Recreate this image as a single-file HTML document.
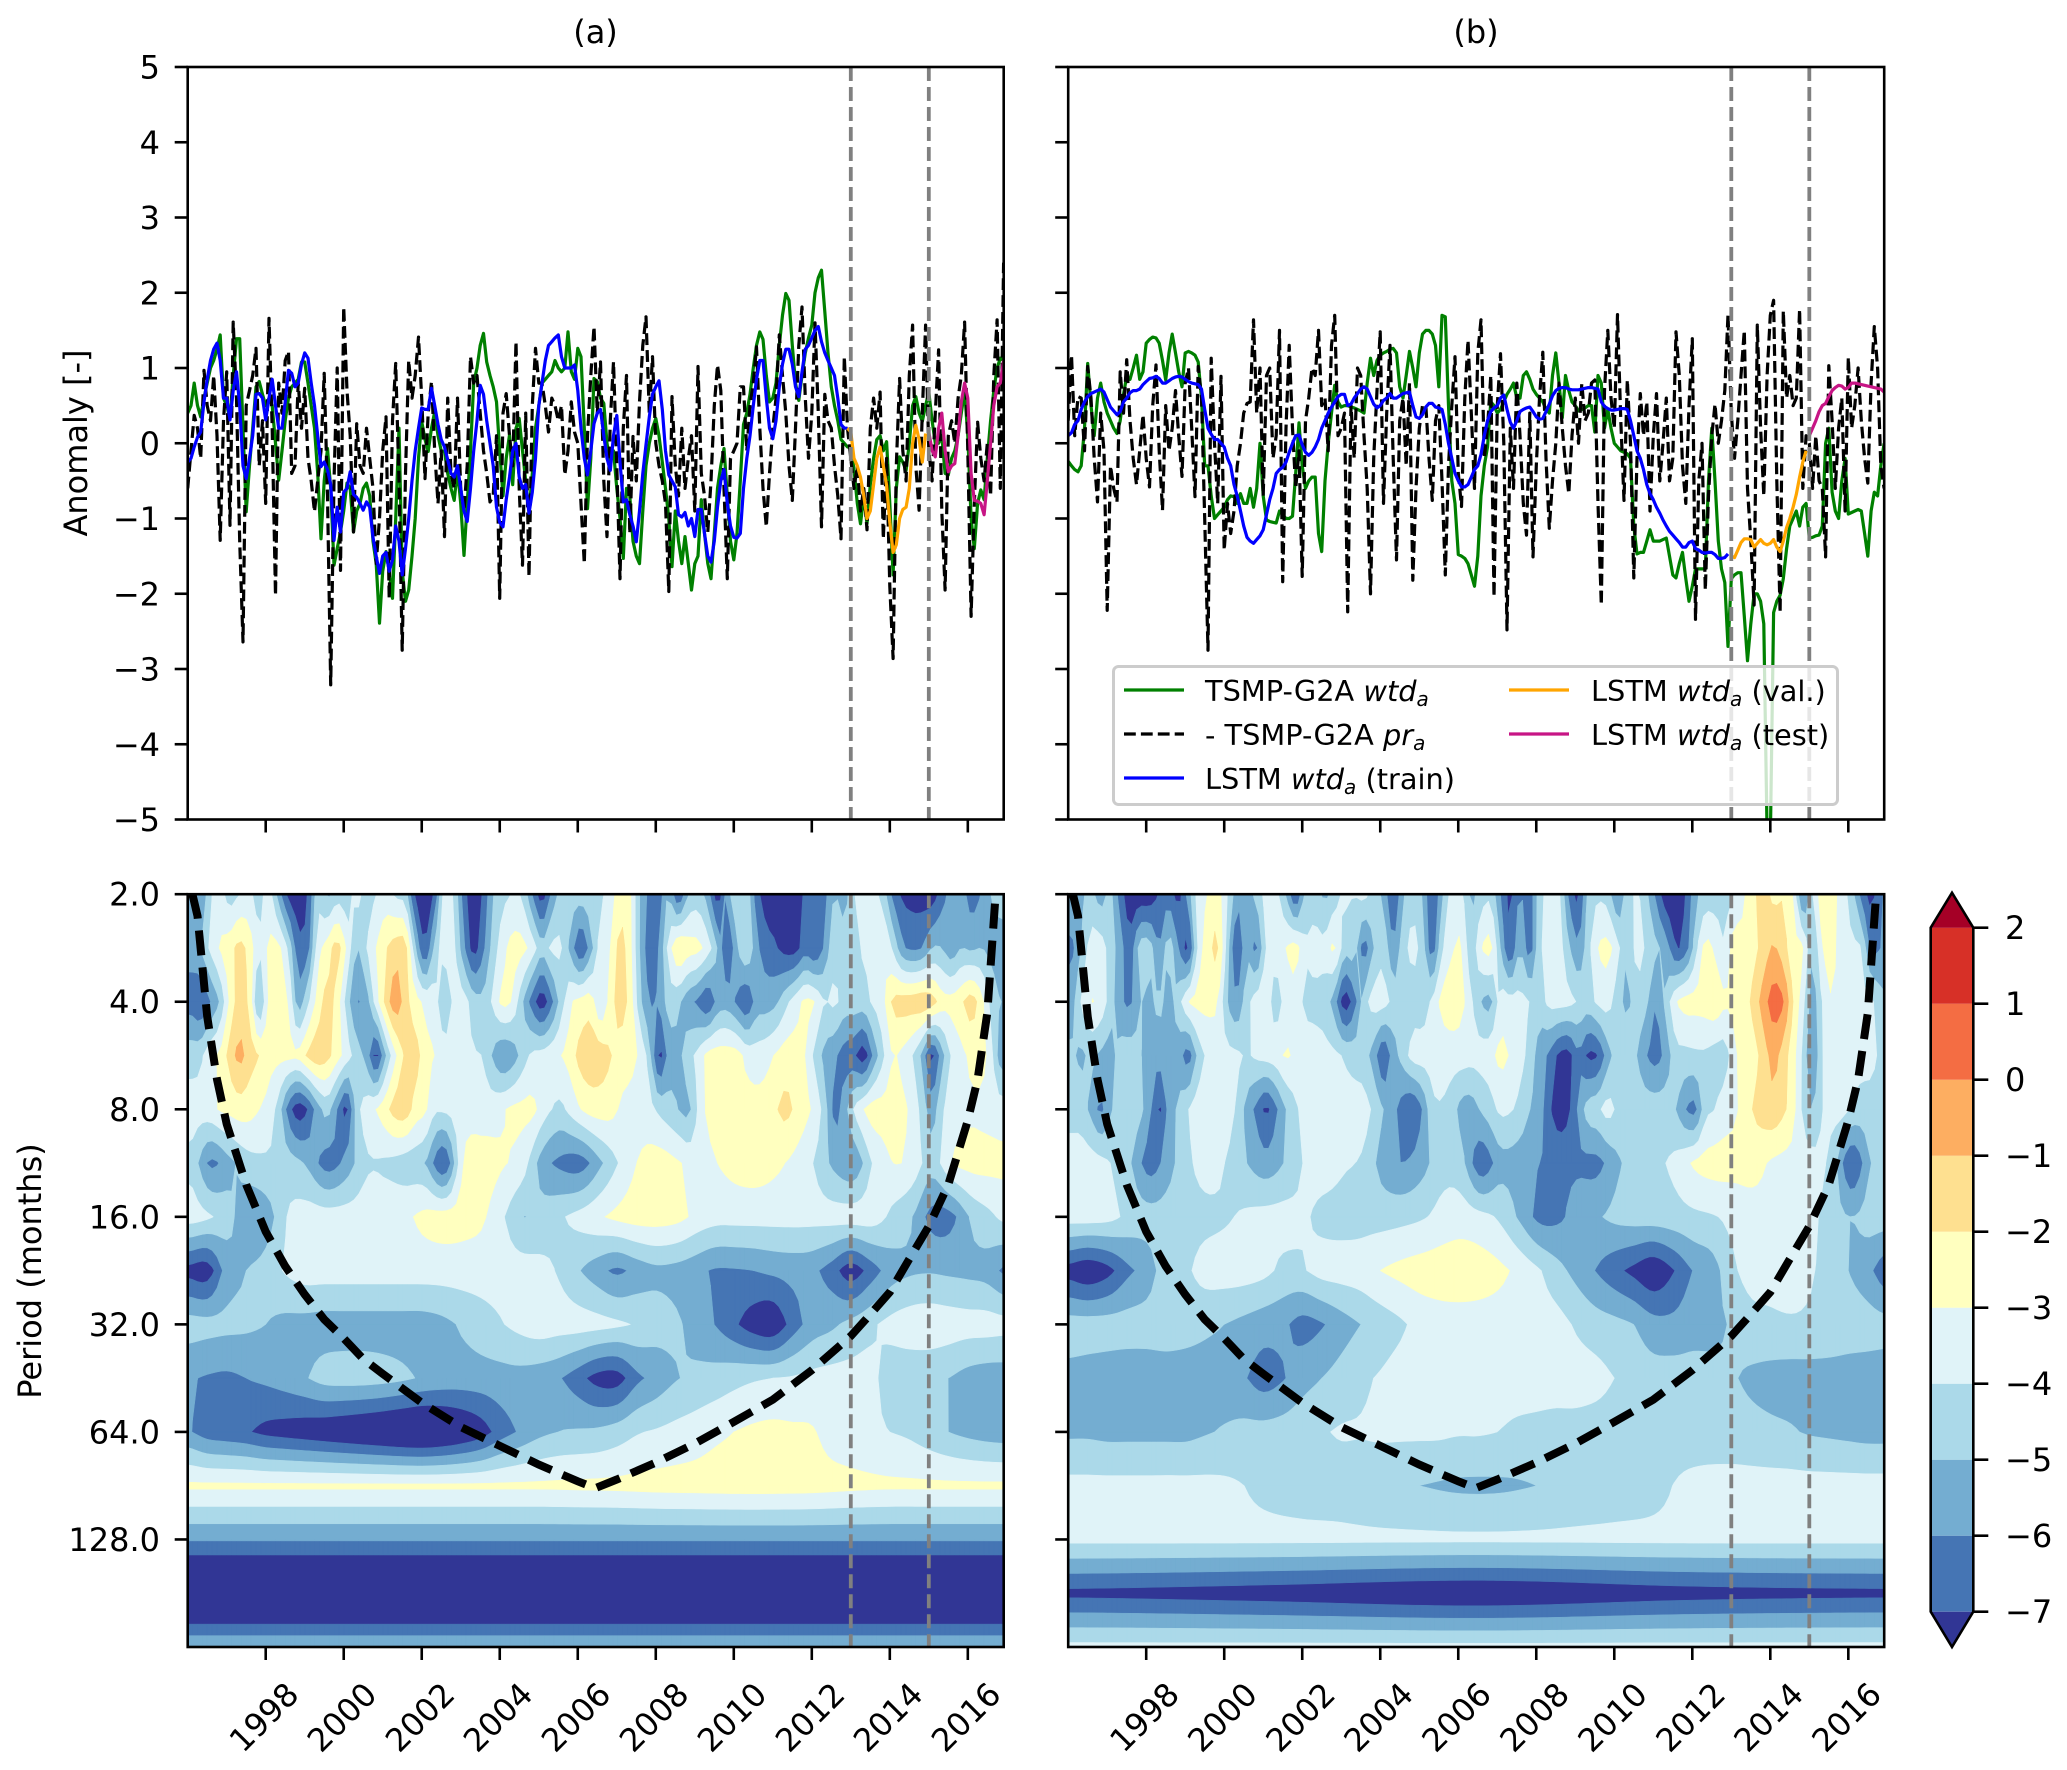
<!DOCTYPE html>
<html lang="en">
<head>
<meta charset="utf-8">
<title>Anomaly time series and wavelet power</title>
<style>
html,body{margin:0;padding:0;background:#fff}
svg{display:block}
text{font-family:"DejaVu Sans","Liberation Sans",sans-serif;fill:#000}
</style>
</head>
<body>
<svg id="figure" xmlns="http://www.w3.org/2000/svg" width="2067" height="1770" viewBox="0 0 2067 1770">
  <rect x="0" y="0" width="2067" height="1770" fill="#fff"/>
  <text x="595.5" y="43" font-size="32" text-anchor="middle">(a)</text>
  <text x="1476" y="43" font-size="32" text-anchor="middle">(b)</text>
  <text x="0" y="0" font-size="32" text-anchor="middle" transform="translate(87,443) rotate(-90)">Anomaly [-]</text>
  <text x="0" y="0" font-size="32" text-anchor="middle" transform="translate(41,1271) rotate(-90)">Period (months)</text>
  <g id="layer-a-top"></g>
  <g id="layer-b-top"></g>
  <g id="layer-a-bottom"></g>
  <g id="layer-b-bottom"></g>
  <g id="layer-colorbar"></g>
  <g id="legend">
    <rect x="1113.5" y="666.5" width="724" height="138" rx="5" ry="5" fill="#fff" fill-opacity="0.8" stroke="#cccccc" stroke-width="3"/>
    <g>
      <line x1="1124" x2="1184" y1="690" y2="690" stroke="#008000" stroke-width="3.2"/>
      <text x="1205" y="701" font-size="28.8">TSMP-G2A <tspan font-style="italic">wtd</tspan><tspan font-style="italic" font-size="20" dy="5">a</tspan></text>
    </g>
    <g>
      <line x1="1124" x2="1184" y1="734" y2="734" stroke="#000" stroke-width="3.2" stroke-dasharray="11.8 5.1"/>
      <text x="1205" y="745" font-size="28.8">- TSMP-G2A <tspan font-style="italic">pr</tspan><tspan font-style="italic" font-size="20" dy="5">a</tspan></text>
    </g>
    <g>
      <line x1="1124" x2="1184" y1="778" y2="778" stroke="#0000ff" stroke-width="3.2"/>
      <text x="1205" y="789" font-size="28.8">LSTM <tspan font-style="italic">wtd</tspan><tspan font-style="italic" font-size="20" dy="5">a</tspan><tspan dy="-5"> (train)</tspan></text>
    </g>
    <g>
      <line x1="1509" x2="1569" y1="690" y2="690" stroke="#ffa500" stroke-width="3.2"/>
      <text x="1591" y="701" font-size="28.8">LSTM <tspan font-style="italic">wtd</tspan><tspan font-style="italic" font-size="20" dy="5">a</tspan><tspan dy="-5"> (val.)</tspan></text>
    </g>
    <g>
      <line x1="1509" x2="1569" y1="734" y2="734" stroke="#c71585" stroke-width="3.2"/>
      <text x="1591" y="745" font-size="28.8">LSTM <tspan font-style="italic">wtd</tspan><tspan font-style="italic" font-size="20" dy="5">a</tspan><tspan dy="-5"> (test)</tspan></text>
    </g>
  </g>
</svg>
<script>
// ---------- axis labels ----------
const yearTicks = [1998,2000,2002,2004,2006,2008,2010,2012,2014,2016];
const anomalyTicks = [5,4,3,2,1,0,-1,-2,-3,-4,-5];
const periodTicks = [2,4,8,16,32,64,128];
const splitYears = [2013,2015];
const colorLevels = [-7,-6,-5,-4,-3,-2,-1,0,1,2];
const colorBands = ['#313695','#4575b4','#74add1','#abd9e9','#e0f3f8','#ffffbf','#fee090','#fdae61','#f46d43','#d73027','#a50026'];

// ---------- panel (a) monthly series, Jan 1996 onward ----------
const greenA = [.4,.5,.8,.5,.35,.6,.8,1,1.1,1.25,1.44,.6,.5,.33,.9,1.39,1.39,.2,-.91,-.3,.2,.75,.82,.65,.5,.6,.5,0,-.49,-.1,.3,.6,.75,.8,.85,1.08,1.08,.8,.5,.2,-.4,-1.27,-.5,-.07,-.6,-1.62,-1.4,-1.18,-.9,-.53,-.6,-1.18,-.9,-.8,-.6,-.53,-.7,-1.3,-1.6,-2.39,-1.7,-1.44,-1.7,-2.06,-1,.2,-1.7,-2.1,-1.95,-1.5,-1,-.2,.29,.05,-.11,.2,.42,.1,-.1,-.11,-.4,-.6,-.76,-.35,-.8,-1.49,-.8,-.1,.8,1,1.3,1.46,1.08,.9,.75,.55,-.1,-.7,-.2,.11,-.55,.2,.33,-.1,-.5,-.91,-.4,.2,.5,.8,.85,.9,.95,1.1,1,.95,1,1.48,.95,.85,1.26,1.15,.2,-.87,-.2,.86,.82,.6,.53,0,-.25,-.1,-.6,-1,-1.53,-.6,-.7,-1.3,-1.5,-1.6,-.9,-.3,0,.2,.33,.1,-.25,-.6,-1,-1.64,-.9,-1.3,-1.6,-1.24,-1.6,-1.95,-1.6,-1.5,-.75,-1.2,-1.6,-1.8,-1.2,-.6,-.3,-.07,-.7,-1.3,-1.55,-1.2,-.5,.25,.4,.65,1,1.3,1.48,1.38,.9,.55,.6,.8,1.3,1.7,1.99,1.9,1.3,.8,.57,.9,1.2,1.4,1.57,2,2.2,2.3,1.75,1.2,.75,.5,.3,.05,0,-.05,-.05,-.35,-.8,-1.07,-.7,-1.07,-.55,-.2,.05,.1,-.1,.02,-.8,-1.75,-.6,-.18,-.25,-.36,0,.5,.62,.4,.29,.5,.68,.3,0,0,.1,-.4,-.42,-.2,-.1,.1,.4,.7,.1,-1,-1.4,-.8,-.62,-.75,-.2,.3,.7,1,1.13,1.1];
const precipA = [-.6,-.1,.37,.2,-.2,.97,.5,.3,.9,.1,-1.29,.3,.95,-1.09,1.61,.6,-1.3,-2.64,.5,.7,.9,1.26,-.3,.3,-.8,1.66,.2,-2.02,.8,.4,1.1,1.22,-.4,-.3,.8,.2,.73,-.2,-.5,-.91,-.5,-.1,.93,-.7,-3.21,-.5,1,-1.69,1.81,.7,.1,-1.18,.26,-.3,-.4,.2,-.2,-.6,-1.6,-1,-.1,.35,-2.06,.3,1.06,-.5,-2.75,-.4,1.1,.6,.9,1.41,.6,-.47,.4,.82,-.1,-.8,-.1,-1.24,.6,-.4,-.6,.6,-.6,-.9,-.3,1.15,.8,.9,.4,-.1,-.4,-.78,-.7,.1,-2.06,.4,.66,.1,-.3,1.35,-.6,-1.62,.4,-1.77,.5,1.26,.8,.8,.5,.15,.6,.5,.3,.5,-.42,-.1,.55,.15,0,-.8,-1.6,.1,.9,1.55,.4,1.08,-.5,-1.24,.3,1.08,-.3,-1.8,.2,.9,-1.2,.09,-.5,.55,1.3,1.68,.4,1.15,0,-.3,-.5,-.8,-1.97,.62,-.3,-.7,.2,-.6,-.2,.1,-.9,1.02,-.4,-.7,-1.18,-.5,.5,1.04,.7,-.6,-1.8,-.2,-.1,0,.75,.75,-.1,.5,.8,1.28,.2,-.6,-1.11,-.4,.2,.6,1.44,.9,.4,-.3,-.76,.2,1.3,1.81,.6,-.2,.4,1.6,.4,-1.11,.65,.3,.2,-.3,-.7,-1.27,1.15,.2,-.2,-.6,-.3,-.9,-.6,-1.15,.2,.6,.2,.68,-1.27,-.2,-1.9,-2.86,-.3,.86,-.1,-.5,.9,1.57,-.3,-.89,.4,1.57,-.1,-.5,.4,1.24,-.9,-1.95,.1,.3,0,.6,.9,1.61,-.1,-2.3,-.8,.28,-.2,-.5,0,-.7,.9,1.64,-.6,2.4];
const trainA = [-.25,-.2,-.05,.08,.15,.55,.85,1.1,1.25,1.33,1.1,.6,.6,.31,.7,.95,.5,-.3,-.47,-.2,.1,.65,.66,.6,.31,.6,.85,.5,.2,.2,.55,.97,.93,.75,.8,1.05,1.2,1.13,.8,.5,.1,-.31,-.25,-.35,-.55,-1.29,-.85,-1.18,-.65,-.6,-.38,-.68,-.72,-.8,-.89,-.78,-.85,-1.25,-1.5,-1.73,-1.5,-1.45,-1.7,-1.55,-1.1,-1.3,-1.75,-1.4,-1,-.5,-.1,.2,.47,.45,.45,.73,.5,.25,.05,-.05,-.22,-.4,-.45,-.3,-.6,-.9,-1.04,-.6,-.1,.3,.77,.65,.3,0,-.3,-.85,-1.05,-1.11,-.75,-.45,-.1,0,-.45,-.6,-.55,-.93,-.65,-.2,.5,.8,1.1,1.3,1.35,1.4,1.44,1.15,1,1,1,1.04,.7,.2,-.2,-.42,-.1,.26,.4,.45,.1,-.2,-.36,.1,.37,-.25,-.78,-.75,-.95,-1.1,-1.31,-.9,-.4,-.02,.35,.65,.75,.83,.45,-.1,-.42,-.5,-.58,-.95,-.98,-.92,-1.1,-1,-1.24,-.88,-.88,-1.2,-1.5,-1.58,-1.3,-.85,-.5,-.35,-.8,-1.1,-1.25,-1.26,-1.2,-.6,-.2,.1,.5,.85,1.1,1.1,.6,.2,.06,.3,.75,1.05,1.25,1.25,1.05,.75,.62,.95,1.25,1.3,1.4,1.5,1.55,1.35,1.2,1.1,1,.9,.6,.25,.2,.2];
const valStartA = 203;
const valA = [.2,.15,-.2,-.3,-.45,-.7,-1,-.9,-.55,-.2,-.05,-.3,-.56,-1.05,-1.45,-1.35,-1,-.88,-.85,-.6,0,.24,.05,-.25,.13];
const testStartA = 228;
const testA = [.15,-.1,-.18,.2,.4,-.1,-.38,-.3,-.27,.1,.55,.8,.6,-.4,-.76,-.77,-.8,-.95,-.5,0,.5,.75,.8,1.1];

// ---------- panel (b) monthly series ----------
const greenB = [-.24,-.3,-.35,-.38,-.3,.2,1.06,.5,.1,.6,.8,.55,.4,.3,.2,.13,.3,.65,.89,.85,1,1.17,.85,.95,1.33,1.38,1.41,1.4,1.33,1.1,.84,1.2,1.45,1.2,.95,.75,1.2,1.22,1.2,1.17,1.08,.6,-.3,-.3,-.7,-1,-.95,-.9,-.85,-.75,-.7,-.71,-.8,-.67,-.8,-.8,-.6,-.85,-.6,0,-.7,-1.02,-1.04,-1.05,-1.06,-.9,-.95,-1,-1,-.97,-.4,.27,-.3,-.6,-.5,-.45,-.45,-1.2,-1.44,-.5,0,.4,.77,.55,.48,.5,.5,.48,.47,.45,.43,.4,.8,1.13,.9,1.1,1.17,1.2,1.22,1.25,1.26,1.2,.75,.6,.9,1.22,1,.75,1.2,1.45,1.5,1.5,1.45,1.3,.75,1.7,1.68,.5,-.5,-.8,-1.48,-1.5,-1.53,-1.6,-1.75,-1.9,-1.5,-.7,-.3,-.05,.55,.5,.4,.45,.55,.65,.72,.8,.6,.6,.9,.95,.85,.72,.65,.6,.55,.45,.4,.9,1.2,.8,.34,.9,.7,.55,.5,.43,.45,.47,.5,.5,.15,.9,.8,.2,.45,.2,0,-.05,-.1,-.12,-.14,-.2,-1.1,-1.47,-1.45,-1.45,-1.3,-1.15,-1.3,-1.3,-1.3,-1.28,-1.26,-1.5,-1.75,-1.79,-1.6,-1.45,-1.8,-2.1,-1.9,-1.67,-1.67,-1.67,-1.67,-.5,.2,-.5,-1.3,-1.67,-1.85,-2.7,-1.8,-1.75,-1.72,-1.72,-2.3,-2.89,-2.4,-2,-2,-2.1,-2.4,-5.2,-5.3,-2.25,-2.1,-2.02,-1.8,-1.4,-1.1,-1,-.9,-1.1,-.85,-.8,-1.26,-1.25,-1.23,-1.22,-1.1,0,.2,-.65,-.9,-1,-.5,-.2,-.94,-.92,-.9,-.88,-.9,-1.2,-1.5,-.9,-.65,-.7,-.3,0];
const precipB = [.3,1.17,.1,.62,.6,-.1,1.02,.6,-.2,-.78,.4,-.1,-2.22,-.3,-.6,-.78,.95,.4,1.11,.3,-.2,-.55,-.1,.38,-.2,-.58,.5,1.04,-.1,-.89,.5,-.1,.2,.7,.1,-.44,.8,1,.2,-.71,1.02,.6,-1,-2.75,1.13,0,-.8,.89,-1.42,-.8,-1.2,-.9,-.3,0,.4,.53,.55,1.64,.4,1,-.7,.9,1,-.2,.1,1.5,-1.84,.2,1.3,.2,-.6,-.1,-1.77,.3,.6,1,.9,1.5,.5,.6,-.1,1.3,1.7,.1,.2,.4,-2.24,.5,-.2,1,.9,.1,-.6,-2,-.2,.7,1.48,-.8,.4,1.3,-.2,-1.55,.3,.6,-.3,.8,-1.82,-.6,.2,.5,.51,-.2,-.76,.3,.5,-.5,-1.75,-.3,.5,1.15,-.4,-.84,.6,1.37,.4,-.6,1.2,1.64,-.2,.2,.9,-2.04,.5,1.19,0,-2.48,.2,-.6,.8,.1,-.8,-1.22,.4,-1.51,-.3,.6,1.21,-.2,-1.13,-.5,0,.8,.2,-.3,-.67,.1,.6,0,.8,.3,.4,.8,.84,-.8,-2.15,.7,1.5,.6,.2,1.71,.3,-.76,.84,0,-1.79,-.2,.66,.1,.55,-.9,.1,.66,-.5,0,.6,-.5,-.2,1.48,.9,-.3,-.8,.5,1.39,-2.34,-.5,0,-1.95,-.7,.1,.52,0,.3,.7,1.71,.4,-.2,.3,.9,1.5,-.6,-1.3,-2.15,1.57,.2,-.7,.9,1.7,1.9,-.5,-2.25,1.76,.6,.9,.5,.6,1.78,-.6,.1,0,-.6,.1,-.5,-.6,-1.51,1.03,.3,-.6,.2,.6,-.9,1.14,.2,.5,1,.3,-.2,-.53,.8,1.55,1,-.3,-.6];
const trainB = [.1,.14,.25,.3,.45,.55,.62,.66,.68,.7,.72,.68,.58,.48,.43,.38,.42,.55,.6,.67,.7,.7,.72,.78,.82,.86,.87,.89,.86,.8,.8,.83,.86,.88,.89,.88,.85,.82,.8,.79,.78,.72,.45,.2,.12,.05,.05,0,-.05,-.2,-.3,-.55,-.7,-.9,-1.1,-1.25,-1.3,-1.33,-1.28,-1.23,-1.15,-.95,-.75,-.6,-.4,-.35,-.32,-.25,-.12,0,.1,.11,-.02,-.12,-.16,-.12,-.05,.05,.2,.3,.4,.48,.55,.62,.65,.65,.5,.52,.6,.66,.72,.75,.72,.62,.52,.47,.5,.57,.6,.66,.6,.6,.63,.66,.67,.68,.5,.35,.33,.38,.48,.53,.53,.48,.47,.45,.25,0,-.2,-.4,-.5,-.58,-.58,-.55,-.45,-.35,-.3,-.15,.1,.3,.42,.47,.5,.6,.64,.45,.28,.2,.3,.42,.45,.47,.48,.42,.35,.32,.33,.42,.52,.63,.7,.73,.74,.74,.72,.71,.71,.71,.72,.73,.74,.74,.73,.72,.55,.49,.46,.44,.44,.45,.46,.46,.45,.3,.1,-.1,-.2,-.35,-.55,-.67,-.75,-.85,-.93,-1.02,-1.1,-1.17,-1.22,-1.27,-1.32,-1.38,-1.38,-1.32,-1.3,-1.4,-1.42,-1.45,-1.46,-1.45,-1.45,-1.48,-1.53,-1.53,-1.52,-1.47];
const valStartB = 204;
const valB = [-1.5,-1.52,-1.42,-1.32,-1.27,-1.27,-1.28,-1.38,-1.33,-1.28,-1.33,-1.35,-1.33,-1.28,-1.38,-1.44,-1.3,-1.12,-1,-.85,-.68,-.45,-.25,-.1];
const testStartB = 228;
const testB = [.1,.2,.3,.42,.5,.53,.62,.7,.74,.77,.76,.72,.74,.8,.8,.79,.78,.77,.76,.75,.74,.73,.72,.68];

// ---------- cone of influence ----------
const coiYears = [1996.12,1996.25,1996.5,1996.75,1997,1997.5,1998,1998.5,1999,1999.5,2000,2000.5,2001,2002,2003,2004,2005,2006,2006.45,2007,2008,2009,2010,2011,2012,2013,2013.5,2014,2014.5,2015,2015.5,2016,2016.25,2016.5,2016.7];
const coiPeriods = [2,2.3,4.4,6.6,8.8,13,17.6,22,26.4,31,35,40,44,53,62,70,79,88,92,87,78,69,60,52,43,34.5,30,26,21,17,13,8.6,6.6,4.3,2.1];

// ---------- wavelet log power, one row per half octave of period ----------
const rowOctaves = [0,.5,1,1.5,2,2.5,3,3.5,4,4.5,5,5.5,6,6.5,7];
const a00 = [-5.5,-6,-4.2,-3.6,-4.5,-4,-3.8,-4.4,-3.6,-5.5,-7.3,-7.6,-7,-4.5,-5.2,-4.5,-4.6,-3.6,-4.5,-4,-3.6,-4.2,-4.6,-7.2,-7.7,-6.8,-3.5,-4.2,-6.5,-7.7,-6.8,-5,-4.3,-4,-4.2,-6,-7.5,-5.8,-4.6,-4.5,-4.5,-4.3,-4.2,-3.5,-2.5,-2.7,-5,-6.2,-6.5,-5,-7,-5,-4.6,-5.5,-7.5,-5.5,-4.2,-4.4,-6.5,-7.6,-7.7,-7.3,-7.6,-6.8,-6.3,-6.3,-5,-5.5,-4,-3.7,-3.7,-4.5,-6.3,-7.2,-7.4,-7.5,-7.6,-6.5,-5.6,-5.5,-6.5,-6,-5,-4.6,-4.5];
const a05 = [-5.6,-4.9,-3.8,-2.9,-2.4,-1.7,-2.4,-3.8,-2.8,-2.8,-4.2,-6.6,-6.4,-3.5,-2.6,-1.6,-3.2,-5,-4,-3,-2.1,-1.5,-1.6,-4.8,-7,-4.7,-3.5,-3.8,-5.8,-7.4,-6.2,-4.6,-3.4,-2.6,-2.7,-3.4,-4.6,-3.8,-3.9,-5.5,-7,-5.5,-3.6,-3.1,-1.7,-2.6,-5,-6.5,-6,-3.6,-2,-2.5,-2.7,-3.5,-5,-7,-5.2,-4,-5.7,-6.5,-6.9,-7.4,-7.4,-6.5,-7,-5.8,-4.2,-4.4,-4.5,-3.8,-3.7,-3,-4.2,-5.8,-6.2,-6,-5,-5,-5.7,-5,-5.2,-5,-5.3,-5.5,-5.5];
const a10 = [-6.5,-7,-6,-4.9,-2.8,-1.6,-2.3,-5.2,-2.7,-2.7,-3,-5.5,-4.2,-2.7,-1.6,-2.5,-4.5,-6,-5.5,-3.5,-1.7,-.3,-1.6,-2.6,-3.2,-3.5,-5,-3.7,-3.6,-4.5,-4.7,-3.8,-2.7,-3.2,-4.9,-6.5,-7.6,-6.3,-4.5,-3.1,-2.7,-2.5,-4,-2.6,-1.5,-2.4,-4.6,-6,-5.8,-4.6,-4.8,-5.7,-6.2,-7,-5.7,-5.5,-6.2,-7,-5.6,-5.5,-5.2,-4.3,-3.5,-2.8,-3,-4,-3.8,-4.4,-4.4,-4.4,-3.8,-3.3,-1.8,-1.5,-1.4,-1.2,-1.5,-2.5,-2.6,-2.2,-1.5,-2.5,-4.2,-5,-5];
const a15 = [-4.4,-4.2,-3.3,-2.8,-1.6,-.7,-1.5,-2,-2.6,-2.7,-2.7,-2.7,-1.8,-1.3,-1.7,-2.6,-3.5,-4.5,-5.4,-7.3,-5,-3.2,-1.8,-1.5,-2.6,-3,-3.4,-3.5,-3.6,-3.9,-4.1,-5.2,-6,-5.6,-4.6,-3.8,-3.6,-3.3,-3,-2.5,-1.5,-1.2,-1.4,-1.9,-2.5,-2.6,-3.2,-4.5,-7.3,-5.7,-5.3,-4.4,-3.7,-2.7,-2.5,-2.5,-2.6,-3.3,-3.5,-3.3,-2.9,-2.5,-2.5,-3,-4.3,-5.3,-5.8,-6.5,-6.8,-7.6,-5.8,-4.2,-3,-3.3,-4,-5.3,-7.3,-5.5,-3.9,-3.3,-2.8,-2.6,-3.5,-5.5,-5.5];
const a20 = [-3.5,-3.5,-3.3,-2.9,-2.7,-2.5,-2.6,-3,-3.4,-4.5,-6.5,-7.6,-7,-5.5,-4.7,-6,-7.3,-4.5,-3.5,-3,-2.3,-1.5,-1.4,-2.4,-2.8,-3.8,-3.8,-3.6,-3.5,-3.5,-3.5,-3.4,-3.1,-2.8,-2.7,-2.7,-3.4,-4,-4.2,-3.6,-3,-2.6,-2.5,-2.6,-3.1,-3.4,-3.5,-3.7,-4.2,-4.6,-5,-5.3,-3.9,-2.8,-2.6,-2.6,-2.6,-2.5,-2.6,-2.5,-2.1,-1.7,-2.2,-2.7,-3.3,-4.5,-6.3,-5.5,-3.9,-3,-2.5,-2.6,-2.6,-2.8,-3.3,-4.4,-5.5,-4.2,-3.5,-3.3,-3.2,-3.3,-3.4,-3.5,-3.5];
const a25 = [-4.3,-6.2,-5.3,-4.4,-4.2,-4.5,-5.2,-6.5,-5.6,-4.2,-4.2,-4.6,-5,-7,-2.9,-2.5,-2.9,-3.5,-5.5,-6.3,-6.5,-5.2,-3.9,-2.9,-2.5,-2.9,-3.5,-3,-2.6,-2.5,-2.8,-3.3,-4.1,-5.3,-5.8,-3.9,-3,-3.3,-4.5,-3,-2.6,-2.6,-2.7];
const a30 = [-3.5,-3.9,-4.7,-5.9,-5.4,-3.9,-3.5,-3.5,-3.5,-3.5,-3.5,-3.2,-2.7,-2.5,-2.6,-2.9,-3.9,-5,-4.6,-4.1,-3.6,-3.1,-2.7,-2.5,-2.5,-2.7,-3.3,-3.6,-3.6,-3.6,-3.6,-3.6,-3.6,-3.5,-3.4,-3.5,-4.3,-5,-6.4,-6.3,-4.9,-4.2,-3.6];
const a35 = [-7.4,-7.6,-5.6,-5,-4.6,-3.9,-3.5,-3.5,-3.5,-3.5,-3.5,-3.5,-3.5,-3.5,-3.5,-3.5,-3.5,-3.5,-3.7,-4.1,-4.9,-5.6,-6.2,-5.7,-5.3,-5.4,-5.7,-6.1,-6.1,-6,-5.8,-5.7,-5.8,-6.5,-7.6,-6.6,-5.6,-5.2,-5.1,-5.2,-5.3,-5.5,-6.3];
const a40 = [-4.5,-4.6,-4.7,-4.8,-5,-5.3,-5.4,-5.5,-5.5,-5.5,-5.5,-5.5,-5.5,-5.3,-4.9,-4.5,-4.1,-3.7,-3.4,-3.5,-3.5,-3.6,-3.8,-4.1,-4.5,-4.8,-5.4,-6,-6.8,-7.6,-7.9,-6.6,-5.6,-5.2,-4.7,-4.2,-3.7,-3.4,-3.3,-3.4,-3.5,-3.5,-3.6];
const a45 = [-5.9,-6.1,-6.2,-6,-5.8,-5.5,-5.1,-4.6,-4.5,-4.5,-4.6,-4.8,-5.1,-5.3,-5.4,-5.4,-5.4,-5.4,-5.6,-5.9,-6.6,-7.4,-7.5,-6.3,-5.7,-5.1,-4.8,-4.6,-4.3,-4.1,-4,-3.9,-3.7,-3.6,-3.6,-3.7,-4.5,-4.7,-4.8,-5,-5.4,-5.6,-5.6];
const a50 = [-5.9,-6.5,-6.7,-6.9,-7.3,-7.5,-7.7,-7.9,-8.1,-8.3,-8.5,-8.7,-8.8,-8.6,-8.2,-7.6,-6.6,-5.9,-5.3,-5,-4.9,-4.8,-4.5,-4.1,-3.9,-3.7,-3.5,-3.2,-3,-2.8,-2.7,-2.8,-2.9,-3.4,-3.6,-3.8,-4,-4.2,-4.6,-5,-5.3,-5.5,-5.6];
const a55 = [-2.8,-2.8,-2.8,-2.8,-2.8,-2.8,-2.8,-2.8,-2.8,-2.8,-2.75,-2.7,-2.6,-2.55,-2.5,-2.5,-2.55,-2.7,-2.8,-2.8,-2.8,-2.8];
const a60 = [-5.9,-5.9];
const a65 = [-9.7,-9.7];
const a70 = [-5,-5];
const rowsA = [a00,a05,a10,a15,a20,a25,a30,a35,a40,a45,a50,a55,a60,a65,a70];

const b00 = [-5.2,-5.2,-4.7,-5.5,-4.8,-6.5,-7.6,-7.7,-7.7,-6.9,-6.5,-7.3,-5.5,-3.6,-3,-2.6,-4,-5.5,-5.6,-4.6,-3.7,-3.8,-5,-7,-4.7,-4.5,-5.2,-4.5,-3.8,-4,-3.7,-4.5,-5.3,-7,-5.2,-4.3,-5,-7,-5.2,-3.7,-3.8,-5.2,-4.5,-4.3,-6,-7.2,-6,-6.5,-4.5,-3.6,-3.7,-6.2,-7.2,-4.7,-4.2,-4.5,-6,-4.5,-3.9,-4.8,-6.3,-7.7,-7.7,-7,-5.3,-4.7,-4.5,-4.4,-4,-3.1,-2.2,-1.6,-2.3,-2.1,-3,-6.2,-4,-2.5,-2.6,-3.5,-4.5,-6.3,-7.3,-6.2,-5.5];
const b05 = [-6.3,-5,-3.6,-3.5,-4.5,-5.5,-6.7,-4.6,-4.5,-6,-4.5,-6,-7.2,-3.7,-2.5,-1.8,-4.5,-7,-5.2,-6.3,-3.8,-3.6,-3,-2.6,-3.8,-3.6,-3.6,-2.8,-4.5,-4.5,-6.5,-5,-4.3,-5.8,-4.5,-3.7,-4.5,-6.5,-4.2,-3.2,-2.9,-4.7,-3.1,-2.7,-5,-7,-5,-6.5,-4.3,-3.6,-3.6,-4.8,-5.8,-4.4,-3,-2.7,-3.6,-5,-3.6,-4.2,-4.8,-5.5,-7,-6.5,-4.5,-2.7,-3.2,-3.9,-2.4,-2.7,-2.3,-1.6,-.9,-1.6,-2.6,-2.8,-5,-3,-2.7,-3.6,-3.8,-4,-6.2,-6,-5.5];
const b10 = [-5.5,-3.9,-3,-3.3,-4.5,-5.7,-6.2,-5,-5.3,-4.7,-5.4,-4.4,-3,-2.7,-2.7,-3,-5,-5.8,-4.4,-3.5,-3.5,-4.5,-3.6,-3.5,-4.2,-4.3,-4.5,-5.6,-7.6,-6.5,-4.5,-3.6,-3.6,-4.3,-5,-4.5,-4.5,-3.8,-2.7,-2.3,-2.7,-3.8,-5,-5.3,-3.6,-3.6,-3.7,-4,-4.5,-3.7,-3.6,-3.7,-4.1,-4.4,-3.8,-3.6,-4.6,-5.2,-4.5,-4.8,-6,-4.6,-3.1,-2.6,-2.6,-2.5,-2.2,-2.8,-2.7,-2.5,-1.6,-.5,.5,.1,-2,-3.6,-5.4,-4,-3,-3.5,-3.6,-3.7,-3.8,-4.6,-5];
const b15 = [-4.8,-5.2,-4.8,-5.2,-5.4,-4.6,-4.4,-4.9,-5.4,-5.6,-5.3,-5.5,-6.5,-4.7,-3.8,-3.6,-3.7,-3.8,-4.1,-3.8,-3.6,-3.4,-2.9,-3.2,-3.5,-3.6,-3.7,-3.8,-4.1,-4.4,-4.6,-5.5,-7,-5.5,-4.6,-3.6,-3.5,-3.6,-3.6,-3.6,-3.5,-3.6,-3.5,-3.3,-2.7,-3.1,-3.6,-4.4,-5.5,-6.2,-7.2,-7.4,-6.2,-7.2,-7,-5.5,-4.5,-4.4,-5,-6,-6.4,-5.6,-4.4,-4.3,-4.2,-4.2,-4.5,-4.5,-3.3,-2.5,-2.4,-1.5,-.7,-1.5,-2.6,-4.2,-6,-4,-3.5,-3.5,-3.5,-3.6,-3.7,-4.2,-4.4];
const b20 = [-4.4,-4.5,-5.3,-6.2,-5.2,-4.4,-4.5,-4.7,-5.7,-7.2,-5.6,-4.8,-4,-3.5,-3.5,-3.5,-3.6,-4.2,-5.4,-6.3,-7.2,-6.2,-5,-4.2,-3.6,-3.5,-3.5,-3.5,-3.5,-3.5,-3.6,-4.2,-5,-5.7,-6.5,-7,-6,-4.3,-4.1,-4.5,-5.4,-5.5,-4.9,-4.4,-3.8,-3.9,-4.3,-5,-5.5,-6.8,-7.6,-7.2,-5.8,-4.5,-4.2,-3.6,-4.2,-4.4,-4.4,-4.4,-4.4,-4.5,-5,-6,-6.3,-4.4,-4,-3.5,-3.2,-2.6,-1.9,-1.5,-1.3,-1.8,-2.6,-4.2,-5,-4,-3.7,-3.6,-4.1,-4.4,-4.4,-4.4,-4.5];
const b25 = [-3.5,-3.5,-4,-4.9,-6.5,-5.4,-4.2,-3.6,-4.1,-5,-5.6,-4.9,-3.9,-3.6,-3.9,-4.2,-5.5,-6,-5.4,-4.4,-4.7,-6.8,-5.5,-5.6,-6,-6.2,-6.2,-6.3,-5.2,-4.5,-4.2,-3.7,-2.8,-2.5,-2.6,-2.6,-3.2,-3.4,-3.6,-4.4,-7,-5,-4.4];
const b30 = [-3.5,-3.5,-3.7,-4.3,-4.5,-4.5,-4.4,-4.3,-4.1,-3.8,-3.6,-3.6,-3.9,-4.3,-4.4,-4.4,-4.4,-4.3,-4.1,-3.7,-3.5,-3.7,-4.2,-5.2,-6.3,-6.2,-5.5,-5.1,-4.7,-4.5,-4.4,-4.3,-4.2,-4.05,-3.7,-3.5,-3.5,-3.5,-3.8,-4.5,-5,-4.5,-4.4];
const b35 = [-7.5,-7.9,-7.4,-6.3,-5.6,-4.5,-4.2,-3.6,-3.5,-3.5,-3.7,-4.2,-4.1,-3.6,-3.5,-3.4,-3,-2.7,-2.5,-2.4,-2.3,-2.4,-2.7,-3.2,-3.8,-4.6,-5.3,-6,-6.7,-7.3,-7.9,-7.1,-6,-5.5,-4.3,-3.6,-3.6,-3.6,-3.9,-4.3,-5,-5.7,-6.8];
const b40 = [-4.5,-4.5,-4.5,-4.5,-4.5,-4.5,-4.6,-4.8,-5,-5.3,-5.6,-5.8,-6.4,-6.1,-5.5,-5,-4.6,-4.2,-3.7,-3.5,-3.5,-3.5,-3.5,-3.5,-3.5,-3.6,-4.1,-4.5,-4.7,-5,-5.6,-5.7,-5.4,-5.3,-4.9,-4.4,-4.2,-4.1,-4.1,-4.2,-4.4,-4.5,-4.6];
const b45 = [-5.3,-5.4,-5.5,-5.6,-5.6,-5.5,-5.5,-5.5,-5.6,-5.9,-6.5,-6.1,-5.4,-5,-4.6,-4.2,-3.9,-3.6,-3.5,-3.5,-3.5,-3.5,-3.5,-3.5,-3.5,-3.5,-3.5,-3.6,-4,-4.3,-4.5,-4.5,-4.6,-4.7,-4.9,-5.2,-5.4,-5.5,-5.5,-5.5,-5.5,-5.5,-5.5];
const b50 = [-5.2,-5.2,-5.3,-5.3,-5.3,-5.3,-5.3,-5.1,-4.9,-4.7,-4.6,-4.5,-4.3,-4.1,-3.9,-3.9,-3.8,-3.8,-3.8,-3.8,-3.9,-3.9,-4,-4.2,-4.3,-4.4,-4.4,-4.5,-4.5,-4.5,-4.5,-4.5,-4.6,-4.6,-4.6,-4.7,-4.8,-4.9,-5.1,-5.2,-5.3,-5.4,-5.4];
const b55 = [-3.7,-3.7,-3.7,-3.7,-3.8,-4.2,-4.4,-4.5,-4.8,-5,-5.2,-5.2,-5,-4.7,-4.5,-4.3,-3.7,-3.6,-3.6,-3.6,-3.6,-3.6];
const b60 = [-3.75,-3.75,-3.8,-3.75,-3.75];
const b65 = [-7.3,-7.6,-8,-7.5,-7.3];
const b70 = [-3.7,-3.7];
const rowsB = [b00,b05,b10,b15,b20,b25,b30,b35,b40,b45,b50,b55,b60,b65,b70];

// ---------- layout ----------
const SVGNS = 'http://www.w3.org/2000/svg';
const yearStart = 1996, yearEnd = 2016.92;
const topY = {t:67, b:819.5};
const botY = {t:894.2, b:1647};
const panelW = 816;
const panels = [
  {key:'a', left:187.7, green:greenA, precip:precipA, train:trainA, val:valA, valStart:valStartA, test:testA, testStart:testStartA, rows:rowsA, labels:true},
  {key:'b', left:1068.2, green:greenB, precip:precipB, train:trainB, val:valB, valStart:valStartB, test:testB, testStart:testStartB, rows:rowsB, labels:false}
];
function make(tag, parent){ const e=document.createElementNS(SVGNS,tag); parent.appendChild(e); return e; }
function xScale(p, yr){ return p.left + (yr-yearStart)/(yearEnd-yearStart)*panelW; }
function yAnom(v){ return topY.t + (5-v)/10*(topY.b-topY.t); }
function yOct(o){ return botY.t + o/7*(botY.b-botY.t); }
function yPeriod(per){ return yOct(Math.log2(per/2)); }
function monthYear(i){ return yearStart + i/12; }

function addClip(id, x, y, w, h){
  const svg=document.getElementById('figure');
  const c=make('clipPath',svg); c.setAttribute('id',id);
  const r=make('rect',c); r.setAttribute('x',x); r.setAttribute('y',y); r.setAttribute('width',w); r.setAttribute('height',h);
}
function linePath(p, values, start){
  let d='';
  values.forEach(function(v,i){ d+=(i?'L':'M')+xScale(p,monthYear(start+i)).toFixed(1)+' '+yAnom(v).toFixed(1); });
  return d;
}
function drawSeries(group, p, values, start, color, dash, name){
  const l=make('path',group);
  
  
  l.setAttribute('d', linePath(p,values,start));
  l.setAttribute('fill','none');
  l.setAttribute('stroke',color);
  l.setAttribute('stroke-width','3.2');
  l.setAttribute('stroke-linejoin','round');
  if(dash) l.setAttribute('stroke-dasharray',dash);
}
function drawSplits(group, p, y0, y1){
  splitYears.forEach(function(yr){
    const l=make('line',group);
    
    
    const x=xScale(p,yr);
    l.setAttribute('x1',x); l.setAttribute('x2',x); l.setAttribute('y1',y0); l.setAttribute('y2',y1);
    l.setAttribute('stroke','#808080'); l.setAttribute('stroke-width','3.8'); l.setAttribute('stroke-dasharray','14 6');
  });
}
function tickMark(group,x1,y1,x2,y2,name){
  const t=make('line',group);
  
  
  t.setAttribute('x1',x1); t.setAttribute('y1',y1); t.setAttribute('x2',x2); t.setAttribute('y2',y2);
  t.setAttribute('stroke','#000'); t.setAttribute('stroke-width','2.6');
}
function frame(group,p,y0,y1,name){
  const r=make('rect',group);
  
  
  r.setAttribute('x',p.left); r.setAttribute('y',y0); r.setAttribute('width',panelW); r.setAttribute('height',y1-y0);
  r.setAttribute('fill','none'); r.setAttribute('stroke','#000'); r.setAttribute('stroke-width','2.6');
}
function label(group,x,y,str,anchor,name){
  const t=make('text',group);
  
  
  t.setAttribute('x',x); t.setAttribute('y',y); t.setAttribute('font-size','32'); t.setAttribute('text-anchor',anchor);
  t.textContent=str;
  return t;
}
function minus(v){ return String(v).replace('-','\u2212'); }

// field sampling
function sampleRow(row, r, t){
  const n=row.length, step=21/(n-1), t0= r<7 ? 1996.08 : 1996;
  let u=(t-t0)/step; if(u<0)u=0; if(u>n-1)u=n-1;
  const i=Math.min(Math.floor(u),n-2), f=u-i;
  const p0=row[Math.max(i-1,0)], p1=row[i], p2=row[i+1], p3=row[Math.min(i+2,n-1)];
  return 0.5*((2*p1)+(-p0+p2)*f+(2*p0-5*p1+4*p2-p3)*f*f+(-p0+3*p1-3*p2+p3)*f*f*f);
}
function drawContours(group,p){
  const colCount=168, ts=[];
  for(let k=0;k<colCount;k++) ts.push(yearStart+(yearEnd-yearStart)*k/(colCount-1));
  const field=p.rows.map(function(row,r){ return ts.map(function(t){ return sampleRow(row,r,t); }); });
  const xs=ts.map(function(t){ return xScale(p,t); });
  const ys=rowOctaves.map(yOct);
  const base=make('rect',group);
  
  
  base.setAttribute('x',p.left); base.setAttribute('y',botY.t); base.setAttribute('width',panelW); base.setAttribute('height',botY.b-botY.t);
  base.setAttribute('fill',colorBands[0]);
  colorLevels.forEach(function(L,li){
    let d='';
    for(let r=0;r<ys.length-1;r++){
      let runStart=-1;
      for(let k=0;k<colCount-1;k++){
        const a=field[r][k],b=field[r][k+1],c=field[r+1][k+1],e=field[r+1][k];
        const all=a>=L&&b>=L&&c>=L&&e>=L;
        if(all){ if(runStart<0) runStart=k; continue; }
        if(runStart>=0){ d+='M'+xs[runStart].toFixed(1)+' '+ys[r].toFixed(1)+'H'+xs[k].toFixed(1)+'V'+ys[r+1].toFixed(1)+'H'+xs[runStart].toFixed(1)+'Z'; runStart=-1; }
        if(a<L&&b<L&&c<L&&e<L) continue;
        const pts=[[xs[k],ys[r],a],[xs[k+1],ys[r],b],[xs[k+1],ys[r+1],c],[xs[k],ys[r+1],e]];
        let poly='';
        for(let q=0;q<4;q++){
          const P=pts[q],Q=pts[(q+1)%4];
          if(P[2]>=L) poly+=(poly?'L':'M')+P[0].toFixed(1)+' '+P[1].toFixed(1);
          if((P[2]>=L)!==(Q[2]>=L)){
            const f=(L-P[2])/(Q[2]-P[2]);
            poly+=(poly?'L':'M')+(P[0]+(Q[0]-P[0])*f).toFixed(1)+' '+(P[1]+(Q[1]-P[1])*f).toFixed(1);
          }
        }
        d+=poly+'Z';
      }
      if(runStart>=0){ d+='M'+xs[runStart].toFixed(1)+' '+ys[r].toFixed(1)+'H'+xs[colCount-1].toFixed(1)+'V'+ys[r+1].toFixed(1)+'H'+xs[runStart].toFixed(1)+'Z'; }
    }
    if(!d) return;
    const path=make('path',group);
    
    
    path.setAttribute('d',d);
    path.setAttribute('fill',colorBands[li+1]);
    path.setAttribute('stroke',colorBands[li+1]);
    path.setAttribute('stroke-width','0.5');
  });
}

panels.forEach(function(p){
  // --- top panel
  const top=document.getElementById('layer-'+p.key+'-top');
  addClip('clip-top-'+p.key,p.left,topY.t,panelW,topY.b-topY.t);
  const g=make('g',top);
  
  
  g.setAttribute('clip-path','url(#clip-top-'+p.key+')');
  drawSeries(g,p,p.green,0,'#008000',null,'tsmp-wtd-line-'+p.key);
  drawSeries(g,p,p.precip,0,'#000000','11.8 5.1','tsmp-pr-line-'+p.key);
  drawSeries(g,p,p.train,0,'#0000ff',null,'lstm-train-line-'+p.key);
  drawSeries(g,p,p.val,p.valStart,'#ffa500',null,'lstm-val-line-'+p.key);
  drawSeries(g,p,p.test,p.testStart,'#c71585',null,'lstm-test-line-'+p.key);
  drawSplits(g,p,topY.t,topY.b);
  frame(top,p,topY.t,topY.b,'axes-frame-top-'+p.key);
  anomalyTicks.forEach(function(v){
    const y=yAnom(v);
    tickMark(top,p.left-13,y,p.left,y,'y-tick-'+v);
    if(p.labels) label(top,160,y+11.5,minus(v),'end','y-tick-label-'+v);
  });
  yearTicks.forEach(function(yr){
    const x=xScale(p,yr);
    tickMark(top,x,topY.b,x,topY.b+13,'x-tick-'+yr);
  });
  // --- bottom panel
  const bot=document.getElementById('layer-'+p.key+'-bottom');
  addClip('clip-bot-'+p.key,p.left,botY.t,panelW,botY.b-botY.t);
  const h=make('g',bot);
  
  
  h.setAttribute('clip-path','url(#clip-bot-'+p.key+')');
  drawContours(h,p);
  drawSplits(h,p,botY.t,botY.b);
  const coi=make('path',h);
  
  
  let cd='';
  coiYears.forEach(function(yr,i){ cd+=(i?'L':'M')+xScale(p,yr).toFixed(1)+' '+yPeriod(coiPeriods[i]).toFixed(1); });
  coi.setAttribute('d',cd);
  coi.setAttribute('fill','none'); coi.setAttribute('stroke','#000'); coi.setAttribute('stroke-width','8'); coi.setAttribute('stroke-dasharray','25 12');
  frame(bot,p,botY.t,botY.b,'axes-frame-bottom-'+p.key);
  periodTicks.forEach(function(per){
    const y=yPeriod(per);
    tickMark(bot,p.left-13,y,p.left,y,'period-tick-'+per);
    if(p.labels) label(bot,160,y+11.5,per.toFixed(1),'end','period-tick-label-'+per);
  });
  yearTicks.forEach(function(yr){
    const x=xScale(p,yr);
    tickMark(bot,x,botY.b,x,botY.b+13,'year-tick-'+yr);
    const t=label(bot,0,0,String(yr),'middle','year-tick-label-'+yr);
    t.setAttribute('transform','translate('+(x-2)+',1717) rotate(-45) translate(0,11.5)');
  });
});

// --- colorbar
(function(){
  const cb=document.getElementById('layer-colorbar');
  const x0=1930.7,x1=1973.3,y0=927.7,step=76,tipTop=892.7,tipBottom=1647;
  function yLevel(L){ return y0+(colorLevels[colorLevels.length-1]-L)*step; }
  colorLevels.slice(0,-1).forEach(function(L,i){
    const r=make('rect',cb);
    
    
    r.setAttribute('x',x0); r.setAttribute('y',yLevel(L+1)); r.setAttribute('width',x1-x0); r.setAttribute('height',step);
    r.setAttribute('fill',colorBands[i+1]);
  });
  const xm=(x0+x1)/2;
  const over=make('polygon',cb);
  
  
  over.setAttribute('points',x0+','+y0+' '+xm+','+tipTop+' '+x1+','+y0);
  over.setAttribute('fill',colorBands[colorBands.length-1]);
  const under=make('polygon',cb);
  
  
  const yb=yLevel(colorLevels[0]);
  under.setAttribute('points',x0+','+yb+' '+xm+','+tipBottom+' '+x1+','+yb);
  under.setAttribute('fill',colorBands[0]);
  const out=make('polygon',cb);
  
  
  out.setAttribute('points',x0+','+y0+' '+xm+','+tipTop+' '+x1+','+y0+' '+x1+','+yb+' '+xm+','+tipBottom+' '+x0+','+yb);
  out.setAttribute('fill','none'); out.setAttribute('stroke','#000'); out.setAttribute('stroke-width','2.6');
  colorLevels.forEach(function(L){
    const y=yLevel(L);
    tickMark(cb,x1,y,x1+15,y,'colorbar-tick-'+L);
    label(cb,2005,y+11.5,minus(L),'start','colorbar-tick-label-'+L);
  });
})();
// legend stays on top
document.getElementById('figure').appendChild(document.getElementById('legend'));
</script>
</body>
</html>
